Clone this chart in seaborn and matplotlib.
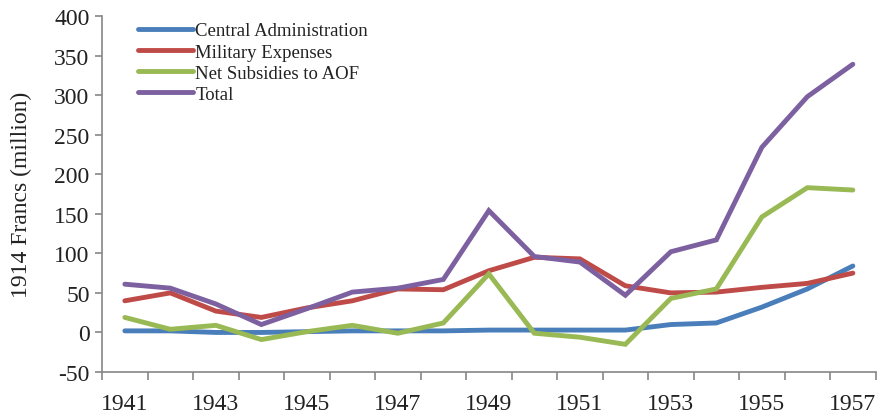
import seaborn as sns
import pandas as pd
import matplotlib.pyplot as plt

years = list(range(1941, 1958))
central_admin = [2, 2, 0, 0, 1, 2, 2, 2, 3, 3, 3, 3, 10, 12, 32, 55, 84]
military = [40, 50, 27, 19, 31, 40, 55, 54, 78, 95, 93, 59, 50, 51, 57, 62, 75]
net_subsidies = [19, 4, 9, -9, 1, 9, -1, 12, 74, -1, -6, -15, 43, 55, 146, 183, 180]
total = [61, 56, 36, 10, 30, 51, 56, 67, 154, 96, 89, 47, 102, 117, 234, 298, 339]

labels = ['Central Administration', 'Military Expenses', 'Net Subsidies to AOF', 'Total']
colors = ['#4A7EBB', '#BE4B48', '#98B954', '#7D60A0']

df = pd.DataFrame({
    'Year': years * 4,
    'Value': central_admin + military + net_subsidies + total,
    'Series': [l for l in labels for _ in years],
})

sns.set_style('white')
plt.rcParams['font.family'] = ['Liberation Serif', 'DejaVu Serif']
plt.rcParams['axes.unicode_minus'] = False

fig = plt.figure(figsize=(8.8, 4.14), dpi=100)
ax = fig.add_axes([0.116, 0.099, 0.879, 0.86])

sns.lineplot(data=df, x='Year', y='Value', hue='Series', palette=colors,
             linewidth=3.5, ax=ax, legend=False)
for l in ax.lines:
    l.set_solid_capstyle('round')
    l.set_solid_joinstyle('miter')

ax.set_xlim(1940.5, 1957.5)
ax.set_ylim(-50, 400)
ax.set_yticks(range(-50, 401, 50))
ax.set_xticks(range(1941, 1958, 2))
ax.set_xticks([y - 0.5 for y in range(1941, 1959)], minor=True)
ax.tick_params(axis='x', which='major', length=0, labelsize=17, pad=15, colors='#222222')
ax.tick_params(axis='x', which='minor', length=6, width=1.2, color='#868686', direction='out', bottom=True)
ax.tick_params(axis='y', length=5, width=1.2, color='#868686', labelsize=17, pad=4, left=True, labelcolor='#222222')
for s in ['top', 'right']:
    ax.spines[s].set_visible(False)
for s in ['left', 'bottom']:
    ax.spines[s].set_color('#868686')
    ax.spines[s].set_linewidth(1.2)

ax.set_xlabel('')
ax.set_ylabel('1914 Francs (million)', fontsize=17, color='#222222', labelpad=16)

handles = [plt.Line2D([], [], color=c, lw=3.5, solid_capstyle='round') for c in colors]
ax.legend(handles, labels, loc='upper left', bbox_to_anchor=(0.157, 0.944),
          bbox_transform=fig.transFigure, frameon=False, borderpad=0, borderaxespad=0,
          fontsize=13.5, handlelength=2.9, handletextpad=0.15, labelspacing=0.22,
          labelcolor='#222222')

fig.savefig('out.png', dpi=100)
